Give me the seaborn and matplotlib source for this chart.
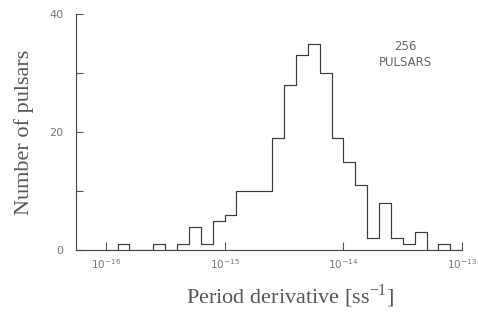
import numpy as np
import pandas as pd
import matplotlib
matplotlib.use("Agg")
import matplotlib.pyplot as plt
import matplotlib.ticker as mticker
import seaborn as sns

# histogram of period derivatives, 0.1 decade bins (log10 of bin edges)
bin_edges_log = [-16.0, -15.9, -15.8, -15.7, -15.6, -15.5, -15.4, -15.3, -15.2, -15.1,
                 -15.0, -14.9, -14.8, -14.7, -14.6, -14.5, -14.4, -14.3, -14.2, -14.1,
                 -14.0, -13.9, -13.8, -13.7, -13.6, -13.5, -13.4, -13.3, -13.2, -13.1,
                 -13.0]
counts = [0, 1, 0, 0, 1, 0, 1, 4, 1, 5,
          6, 10, 10, 10, 19, 28, 33, 35, 30, 19,
          15, 11, 2, 8, 2, 1, 3, 0, 1, 0]
xtick_exps = [-16, -15, -14, -13]
yticks = [0, 10, 20, 30, 40]
ytick_labels = ["0", "", "20", "", "40"]

mid_log = (np.array(bin_edges_log[:-1]) + np.array(bin_edges_log[1:])) / 2
df = pd.DataFrame({"pdot": 10.0 ** mid_log, "n": counts})

sns.set_style("ticks")
plt.rcParams["font.family"] = ["DejaVu Sans"]

fig, ax = plt.subplots(figsize=(4.78, 3.27), dpi=100)
fig.subplots_adjust(left=0.159, right=0.967, bottom=0.235, top=0.957)

sns.histplot(data=df, x="pdot", weights="n", bins=list(bin_edges_log), log_scale=True,
             element="step", fill=False, color="#3a3a3a", linewidth=0.85, ax=ax)

ax.set_xlim(10 ** -16.25, 10 ** -13.0)
ax.set_ylim(0, 40)
ax.xaxis.set_major_locator(mticker.FixedLocator([10.0 ** e for e in xtick_exps]))
ax.xaxis.set_minor_locator(mticker.NullLocator())
ax.set_xticklabels([r"$10^{%d}$" % e for e in xtick_exps])
ax.set_yticks(yticks)
ax.set_yticklabels(ytick_labels)

ax.tick_params(axis="x", direction="in", length=6, width=0.8, color="#555555",
               labelsize=7.5, labelcolor="#777777", pad=5)
ax.tick_params(axis="y", direction="in", length=5, width=0.8, color="#555555",
               labelsize=8, labelcolor="#777777", pad=9)
sns.despine(ax=ax)
for s in ["left", "bottom"]:
    ax.spines[s].set_color("#444444")
    ax.spines[s].set_linewidth(0.8)

serif = ["Liberation Serif", "DejaVu Serif"]
ax.set_xlabel("Period derivative [ss$^{\\mathregular{-1}}$]", family=serif,
              fontsize=16, color="#555555")
ax.xaxis.set_label_coords(0.555, -0.135)
ax.set_ylabel("Number of pulsars", family=serif, fontsize=16,
              color="#555555", labelpad=11)

ax.text(0.852, 0.83, "256\nPULSARS", transform=ax.transAxes, ha="center",
        va="center", multialignment="center", fontsize=8.5, color="#666666",
        linespacing=1.3)

fig.savefig("out.png", dpi=100)
